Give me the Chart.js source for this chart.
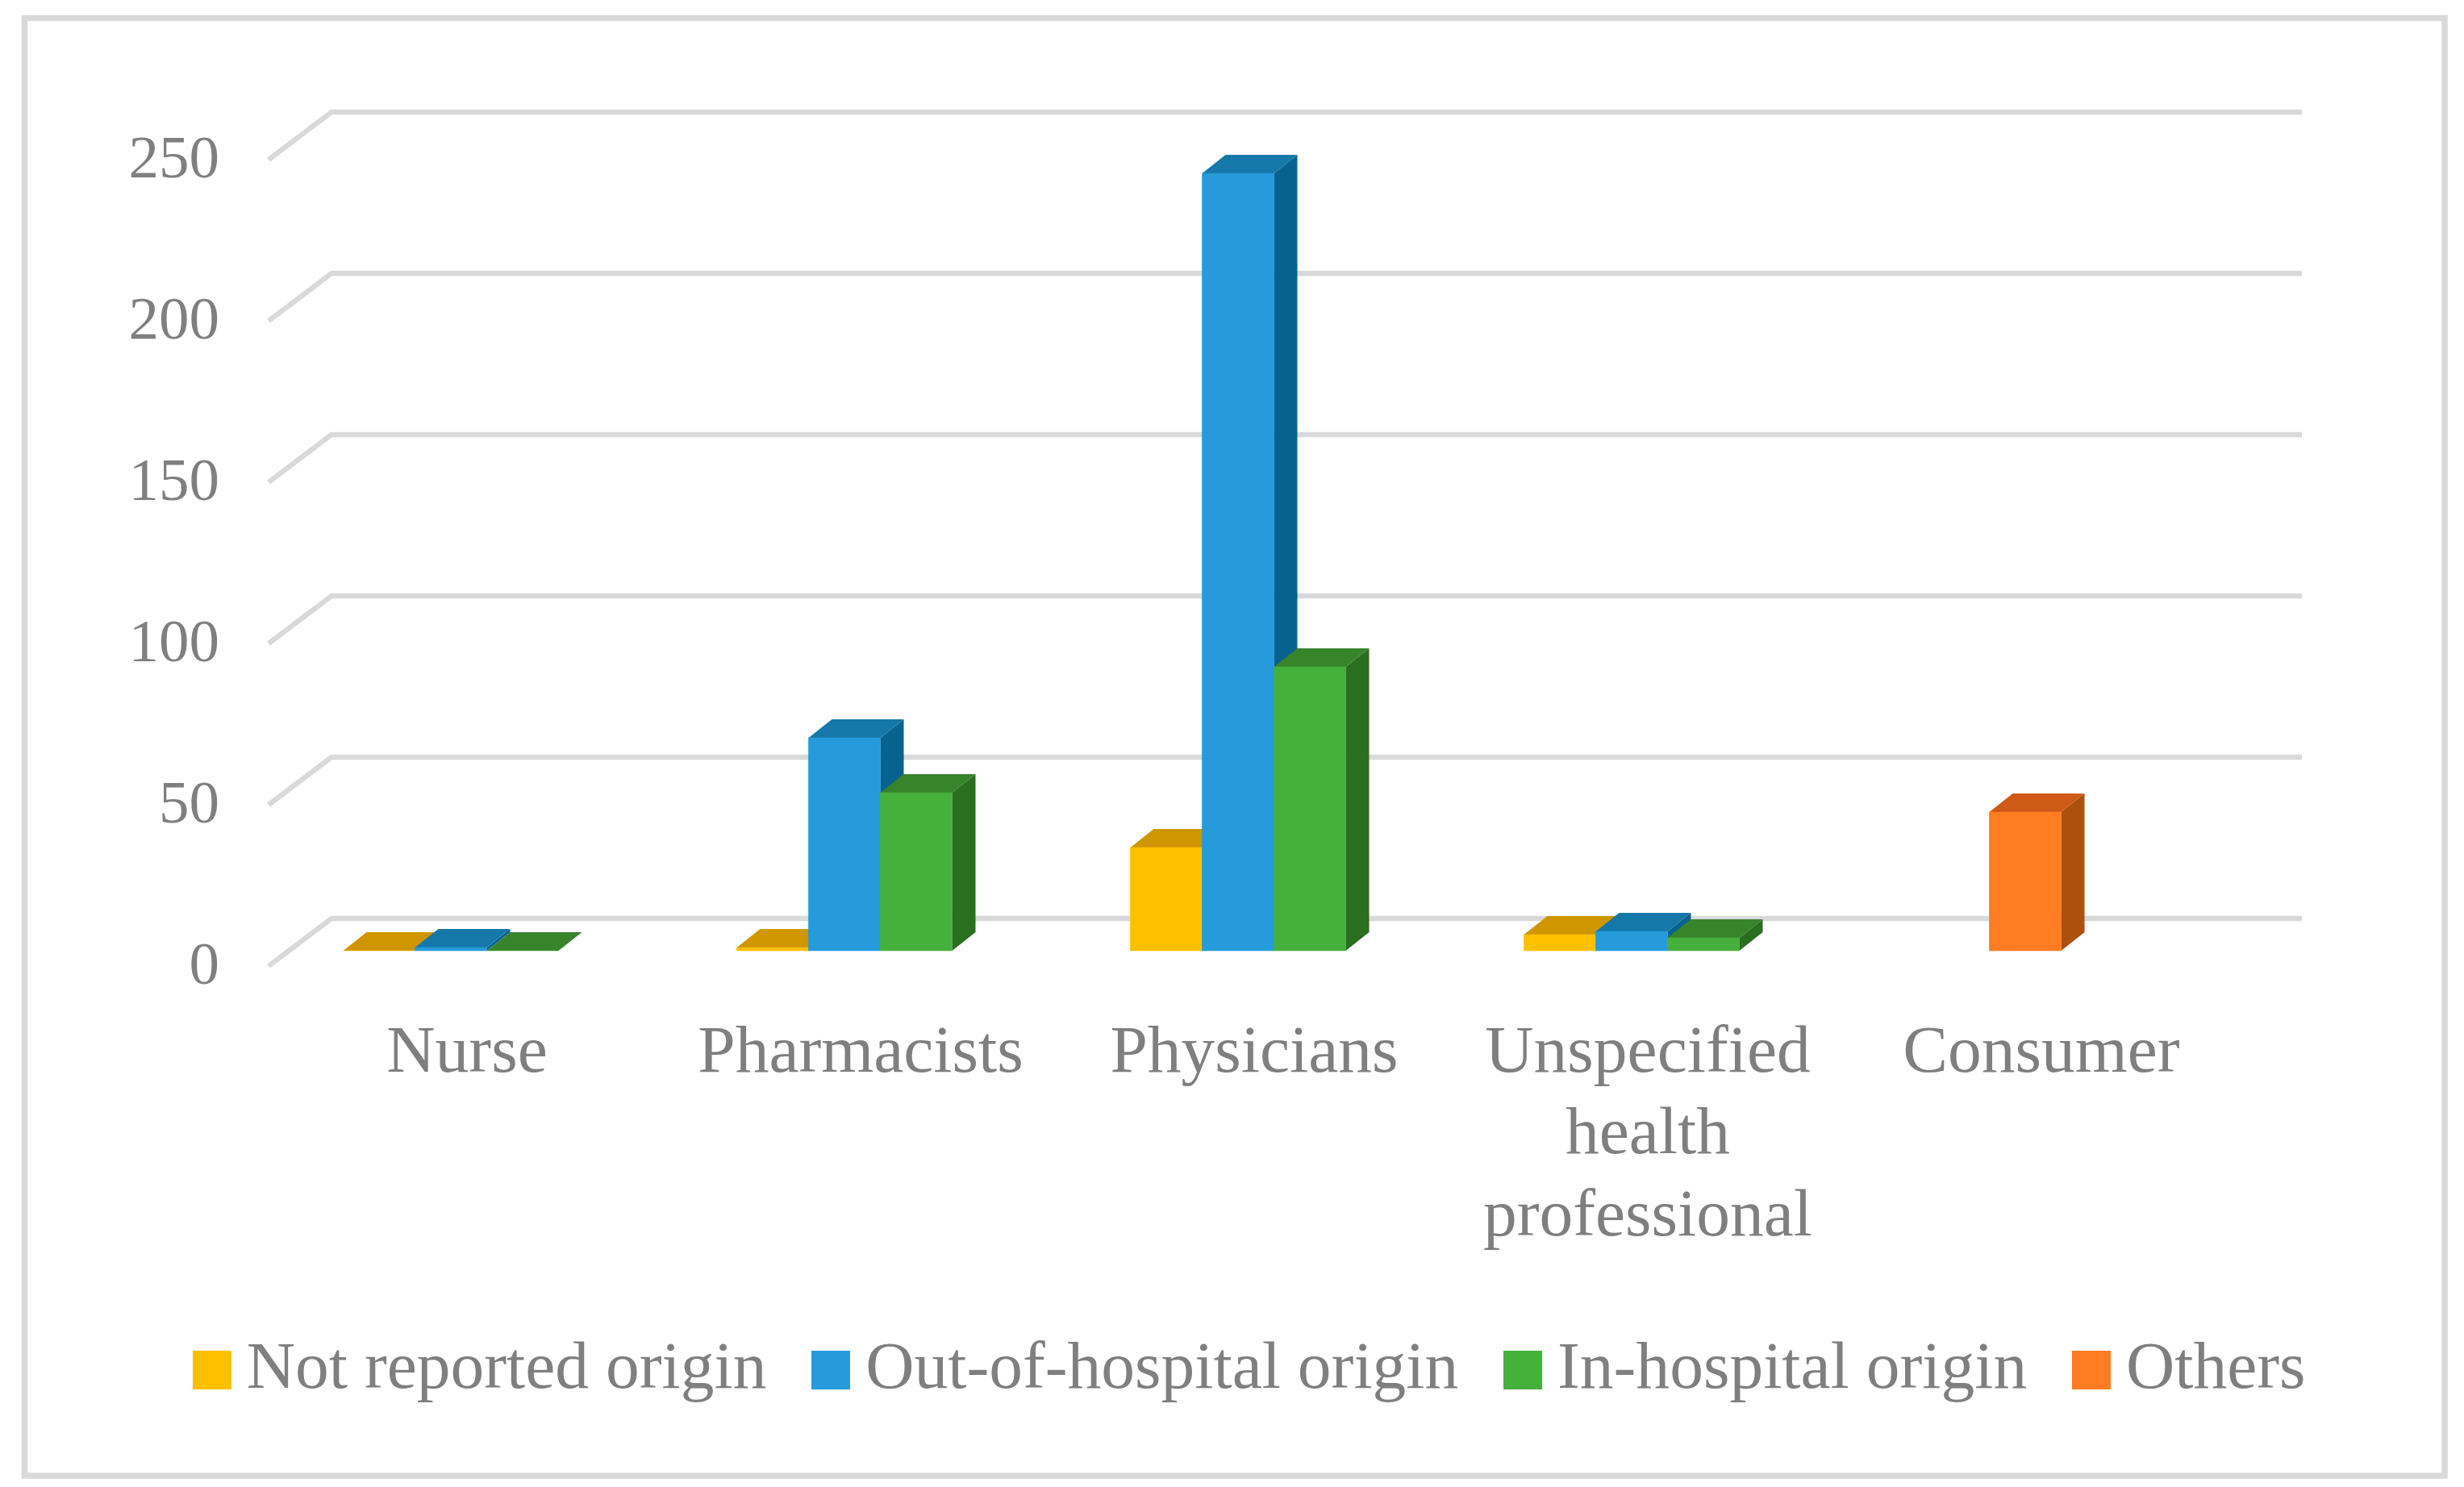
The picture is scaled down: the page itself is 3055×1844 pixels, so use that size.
<!DOCTYPE html>
<html><head><meta charset="utf-8">
<style>html,body{margin:0;padding:0;background:#fff}canvas{display:block}</style>
<script src="https://cdn.jsdelivr.net/npm/chart.js@4"></script>
</head><body><canvas id="c" width="3055" height="1844"></canvas>
<script>
const categories = ["Nurse","Pharmacists","Physicians",["Unspecified","health","professional"],"Consumer"];
const seriesNames = ["Not reported origin","Out-of-hospital origin","In-hospital origin","Others"];
const notReported = [0,1,32,5,null];
const outOfHospital = [1,66,241,6,null];
const inHospital = [0,49,88,4,null];
const others = [null,null,null,null,43];
const yTicks = [0,50,100,150,200,250];

const frontColors = ["#FFC000","#259BDB","#46B03C","#FF7C22"];
const topColors = ["#D09600","#1578A8","#38842B","#CF5A17"];
const sideColors = ["#A87900","#08628F","#2A6E1F","#AC4F0F"];
const GRID = "#D9D9D9", TEXT = "#7F7F7F", FONT = "Liberation Serif";
const DEPTH_X = 29, DEPTH_Y = 23;

function swatch(color){
  const s=document.createElement('canvas'); s.width=48; s.height=48;
  const g=s.getContext('2d'); g.fillStyle=color; g.fillRect(0,0,48,48); return s;
}
const swatches = frontColors.map(swatch);

const scene = {
  id:'scene',
  beforeDraw(chart){
    const c=chart.ctx; c.save();
    c.fillStyle='#fff'; c.fillRect(0,0,chart.width,chart.height);
    c.strokeStyle=GRID; c.lineWidth=7.5;
    c.strokeRect(30.5,22.5,3000.5,1807.5);
    c.restore();
  },
  afterLayout(chart){
    const l=chart.legend;
    l.left=183; l.right=3055; l.top=1578; l.bottom=1844;
  },
  beforeDatasetsDraw(chart){
    const c=chart.ctx, y=chart.scales.y, a=chart.chartArea;
    c.save(); c.strokeStyle=GRID; c.lineWidth=6.5; c.lineJoin='round';
    yTicks.forEach(v=>{
      const p=y.getPixelForValue(v);
      c.beginPath(); c.moveTo(a.left+18,p+19); c.lineTo(a.left+96,p-40); c.lineTo(a.right+99,p-40); c.stroke();
    });
    c.restore();
    chart.data.datasets.forEach((d,i)=>{
      const meta=chart.getDatasetMeta(i);
      c.save();
      meta.data.forEach((b,k)=>{
        if(d.data[k]==null) return;
        const l=b.x-b.width/2, r=b.x+b.width/2;
        c.fillStyle=sideColors[i];
        c.beginPath(); c.moveTo(r,b.y); c.lineTo(r+DEPTH_X,b.y-DEPTH_Y); c.lineTo(r+DEPTH_X,b.base-DEPTH_Y); c.lineTo(r,b.base); c.closePath(); c.fill();
        c.fillStyle=topColors[i];
        c.beginPath(); c.moveTo(l,b.y); c.lineTo(l+DEPTH_X,b.y-DEPTH_Y); c.lineTo(r+DEPTH_X,b.y-DEPTH_Y); c.lineTo(r,b.y); c.closePath(); c.fill();
      });
      c.restore();
      meta.controller.draw();
    });
    return false;
  }
};

new Chart(document.getElementById('c'),{
  type:'bar',
  data:{labels:categories,datasets:[notReported,outOfHospital,inHospital,others].map((v,i)=>({
    label:seriesNames[i],data:v,backgroundColor:frontColors[i],borderWidth:0,barThickness:89,skipNull:true
  }))},
  options:{
    responsive:false,animation:false,devicePixelRatio:1,
    layout:{padding:{top:179,right:300,left:0,bottom:0}},
    plugins:{
      title:{display:false},tooltip:{enabled:false},
      legend:{position:'bottom',align:'start',labels:{
        usePointStyle:true,boxWidth:2,boxHeight:83,padding:79,color:TEXT,
        font:{family:FONT,size:83.5},
        generateLabels:ch=>ch.data.datasets.map((d,i)=>({text:d.label,fillStyle:d.backgroundColor,strokeStyle:d.backgroundColor,lineWidth:0,pointStyle:swatches[i],hidden:false,datasetIndex:i,fontColor:TEXT}))
      }}
    },
    scales:{
      x:{
        grid:{display:false,drawTicks:false},border:{display:false},
        ticks:{color:TEXT,font:{family:FONT,size:83.5,lineHeight:1.21},padding:78,labelOffset:20,maxRotation:0,minRotation:0,autoSkip:false},
        afterFit(s){ s.height = 1844-1179-(s.chart.legend?s.chart.legend.height:0); }
      },
      y:{
        min:0,max:250,
        grid:{display:false,drawTicks:false},border:{display:false},
        afterBuildTicks(s){ s.ticks=yTicks.map(v=>({value:v})); },
        ticks:{color:TEXT,font:{family:FONT,size:75},padding:43,labelOffset:21},
        afterFit(s){ s.width=315; }
      }
    }
  },
  plugins:[scene]
});
</script></body></html>
